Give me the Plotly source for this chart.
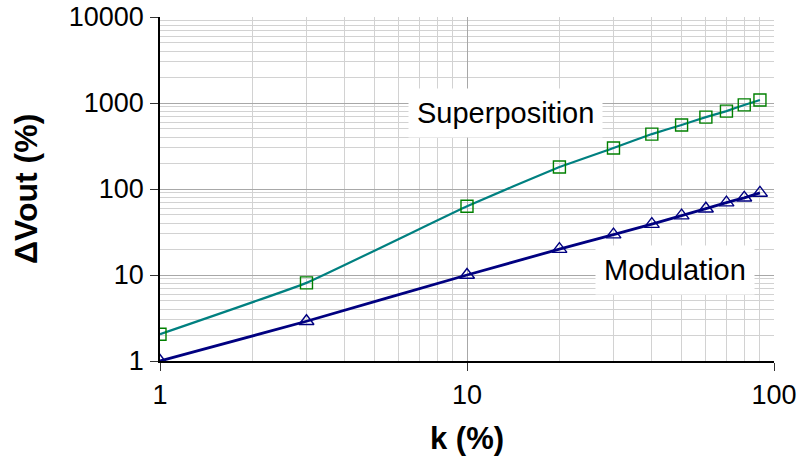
import plotly.graph_objects as go

# ---- data ----
k_values = [1, 3, 10, 20, 30, 40, 50, 60, 70, 80, 90]
superposition = [2.05, 8.1, 63, 180, 300, 435, 555, 685, 805, 950, 1085]
modulation = [1.0, 2.9, 10, 20, 29.5, 39, 49, 59, 69.5, 79, 90]

x_ticks = [1, 10, 100]
x_ticktext = ["1", "10", "100"]
y_ticks = [1, 10, 100, 1000, 10000]
y_ticktext = ["1", "10", "100", "1000", "10000"]

x_minor = [m * d for d in (1, 10) for m in range(2, 10)]
y_minor = [m * d for d in (1, 10, 100, 1000) for m in range(2, 10)]

FONT = "Arial, 'Liberation Sans', sans-serif"
MAJOR_GRID = "#a8a8a8"
MINOR_GRID = "#d2d2d2"

fig = go.Figure()
fig.add_trace(go.Scatter(
    x=k_values, y=superposition, mode="lines+markers", name="Superposition",
    line=dict(color="#008080", width=2.2, shape="spline", smoothing=0.3),
    marker=dict(symbol="square-open", size=12, color="#008000", line=dict(width=1.4)),
    showlegend=False,
))
fig.add_trace(go.Scatter(
    x=k_values, y=modulation, mode="lines+markers", name="Modulation",
    line=dict(color="#000080", width=2.8, shape="spline", smoothing=0.3),
    marker=dict(symbol="triangle-up-open", size=13, color="#000080", line=dict(width=1.4)),
    showlegend=False,
))

fig.add_annotation(x=1.124, y=2.884, xref="x", yref="y", text="Superposition",
                   showarrow=False, font=dict(family=FONT, size=29, color="black"),
                   bgcolor="white", borderpad=8)
fig.add_annotation(x=1.677, y=1.058, xref="x", yref="y", text="Modulation",
                   showarrow=False, font=dict(family=FONT, size=29, color="black"),
                   bgcolor="white", borderpad=8)
# y-axis title placed precisely
fig.add_annotation(x=0, y=0.5, xref="paper", yref="paper", xanchor="center", yanchor="middle",
                   xshift=-134, textangle=-90, text="<b>ΔVout (%)</b>",
                   showarrow=False, font=dict(family=FONT, size=32, color="black"))

fig.update_layout(
    width=798, height=463,
    margin=dict(l=160, r=24, t=17, b=102),
    paper_bgcolor="white", plot_bgcolor="white",
    font=dict(family=FONT, color="black"),
)
fig.update_xaxes(
    type="log", range=[0, 2], automargin=False, ticklabeloverflow="allow",
    tickmode="array", tickvals=x_ticks, ticktext=x_ticktext,
    tickfont=dict(size=27), ticks="outside", ticklen=8, tickcolor="#333",
    ticklabelstandoff=1,
    showgrid=True, gridcolor=MAJOR_GRID, gridwidth=1,
    minor=dict(tickmode="array", tickvals=x_minor, showgrid=True,
               gridcolor=MINOR_GRID, gridwidth=1, ticks=""),
    showline=True, linecolor="black", linewidth=1.5,
    zeroline=False,
    title=dict(text="<b>k (%)</b>", font=dict(size=31), standoff=18),
)
fig.update_yaxes(
    type="log", range=[0, 4], automargin=False, ticklabeloverflow="allow",
    tickmode="array", tickvals=y_ticks, ticktext=y_ticktext,
    tickfont=dict(size=27), ticks="outside", ticklen=8, tickcolor="#333",
    ticklabelstandoff=1,
    showgrid=True, gridcolor=MAJOR_GRID, gridwidth=1,
    minor=dict(tickmode="array", tickvals=y_minor, showgrid=True,
               gridcolor=MINOR_GRID, gridwidth=1, ticks=""),
    showline=True, linecolor="black", linewidth=1.5,
    zeroline=False,
)

fig.write_html("out.html", config={"displayModeBar": False},
               post_script="document.body.style.margin='0';")
